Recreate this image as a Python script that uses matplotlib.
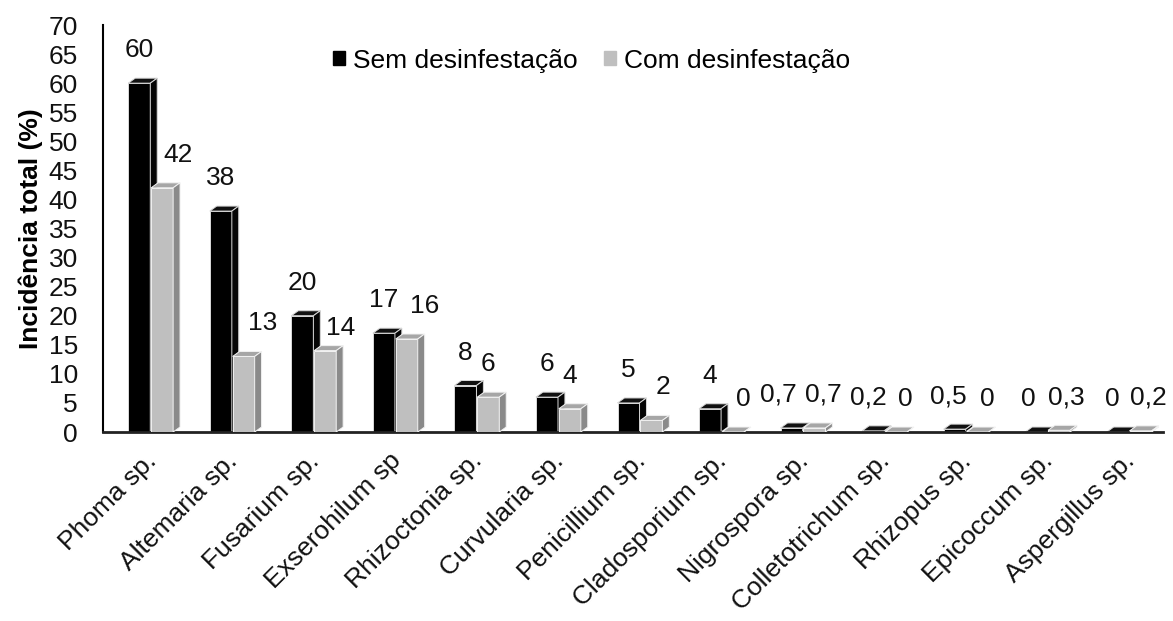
import numpy as np
import matplotlib
matplotlib.use('Agg')
import matplotlib.pyplot as plt
from matplotlib.patches import Polygon, Patch

plt.rcParams['font.family'] = ['Liberation Sans', 'DejaVu Sans']

categorias = ['Phoma sp.', 'Altemaria sp.', 'Fusarium sp.', 'Exserohilum sp',
              'Rhizoctonia sp.', 'Curvularia sp.', 'Penicillium sp.',
              'Cladosporium sp.', 'Nigrospora sp.', 'Colletotrichum sp.',
              'Rhizopus sp.', 'Epicoccum sp.', 'Aspergillus sp.']
sem_desinf = [60, 38, 20, 17, 8, 6, 5, 4, 0.7, 0.2, 0.5, 0, 0]
com_desinf = [42, 13, 14, 16, 6, 4, 2, 0, 0.7, 0, 0, 0.3, 0.2]

# deslocamento horizontal dos rótulos (pixels)
desloc_sem = [0, 0, 0, 0, 0, 0, 0, 0, -13, -5, -6, -8, -5]
desloc_com = [16, 19, 15, 18, 0, 0, 12, 10, 9, 9, 10, 7, 8]
alt_com = [33, 33, 23, 33, 33, 33, 33, 33, 33, 33, 33, 33, 33]

fs = 19

fig = plt.figure(figsize=(11.73, 6.21), dpi=100)
ax = fig.add_axes([0.0878, 0.3043, 0.9037, 0.6554])

x = np.arange(len(categorias))
larg = 0.27
dx, dy = 0.085, 0.86  # profundidade do efeito 3D


def barras_3d(pos, vals, frente, topo, lado, borda, z):
    bars = ax.bar(pos, vals, width=larg, align='edge', color=frente,
                  edgecolor=borda, linewidth=0.7, zorder=z)
    for b in bars:
        x0, x1 = b.get_x(), b.get_x() + b.get_width()
        h = b.get_height()
        ax.add_patch(Polygon([(x0, h), (x0 + dx, h + dy), (x1 + dx, h + dy), (x1, h)],
                             closed=True, facecolor=topo, edgecolor=borda,
                             linewidth=0.7, zorder=z))
        ax.add_patch(Polygon([(x1, 0), (x1 + dx, dy), (x1 + dx, h + dy), (x1, h)],
                             closed=True, facecolor=lado, edgecolor=borda,
                             linewidth=0.7, zorder=z))
    return bars


b1 = barras_3d(x + 0.5 - 0.19, sem_desinf, '#000000', '#111111', '#050505', '#d9d9d9', 2)
b2 = barras_3d(x + 0.5 + 0.09, com_desinf, '#bfbfbf', '#a6a6a6', '#8a8a8a', '#f2f2f2', 3)


def fmt(v):
    return f'{v:g}'.replace('.', ',')


for i in range(len(categorias)):
    ax.annotate(fmt(sem_desinf[i]), (x[i] + 0.5 - 0.19 + larg / 2, sem_desinf[i]),
                xytext=(desloc_sem[i], 33), textcoords='offset pixels',
                ha='center', va='center', fontsize=fs, color='#111111')
    ax.annotate(fmt(com_desinf[i]), (x[i] + 0.5 + 0.09 + larg / 2, com_desinf[i]),
                xytext=(desloc_com[i], alt_com[i]), textcoords='offset pixels',
                ha='center', va='center', fontsize=fs, color='#111111')

ax.set_xlim(0, len(categorias))
ax.set_ylim(0, 70)
ax.set_yticks(np.arange(0, 71, 5))
ax.set_xticks(x + 0.5)
ax.set_xticklabels(categorias, rotation=45, ha='right', va='top',
                   rotation_mode='anchor', fontsize=fs)
ax.tick_params(axis='both', length=0, labelsize=fs, colors='#111111')
ax.tick_params(axis='y', pad=18)
ax.tick_params(axis='x', pad=12)

for s in ['top', 'right']:
    ax.spines[s].set_visible(False)
ax.spines['left'].set_linewidth(1.5)
ax.spines['bottom'].set_linewidth(2)
ax.spines['bottom'].set_color('#222222')

ax.set_ylabel('Incidência total (%)', fontsize=fs, fontweight='bold', labelpad=4)

handles = [Patch(color='#000000'), Patch(color='#bfbfbf')]
ax.legend(handles, ['Sem desinfestação', 'Com desinfestação'], ncol=2,
          frameon=False, loc='upper center', bbox_to_anchor=(0.461, 1.0),
          fontsize=fs, handlelength=0.45, handleheight=0.45, handletextpad=0.3,
          columnspacing=1.0)

plt.savefig('out.png', dpi=100)
